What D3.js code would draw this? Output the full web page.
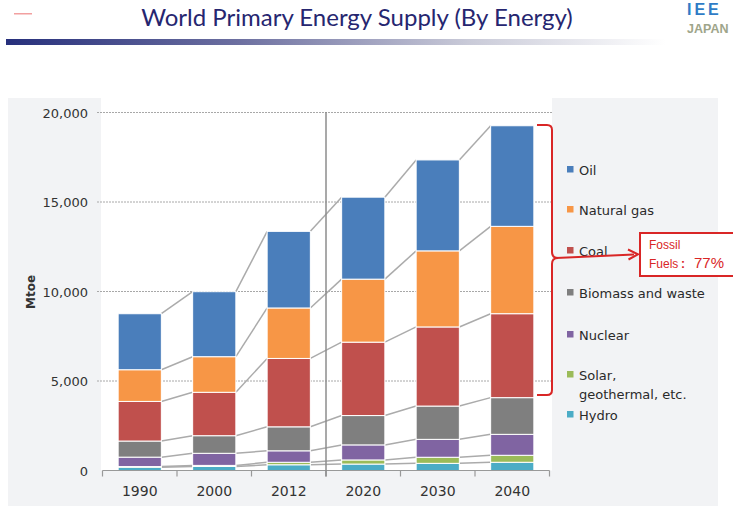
<!DOCTYPE html>
<html>
<head>
<meta charset="utf-8">
<script src="https://cdn.jsdelivr.net/npm/d3@7"></script>
<style>
html,body{margin:0;padding:0;background:#fff;}
svg{display:block;}
</style>
</head>
<body>
<svg id="chart" width="733" height="506"></svg>
<script>
// ---- data ----
const years = ["1990", "2000", "2012", "2020", "2030", "2040"];
const seriesNames = ["Hydro", "Solar, geothermal, etc.", "Nuclear", "Biomass and waste", "Coal", "Natural gas", "Oil"];
const hydro    = [184, 225, 320, 360, 400, 460];
const solar    = [36, 60, 140, 230, 340, 390];
const nuclear  = [526, 676, 640, 840, 1000, 1170];
const biomass  = [900, 983, 1340, 1640, 1860, 2050];
const coal     = [2213, 2425, 3820, 4100, 4420, 4690];
const gas      = [1771, 1989, 2820, 3520, 4250, 4880];
const oil      = [3128, 3631, 4280, 4580, 5080, 5620];
const yTicks   = [0, 5000, 10000, 15000, 20000];
const legendOrder = ["Oil", "Natural gas", "Coal", "Biomass and waste", "Nuclear", "Solar, geothermal, etc.", "Hydro"];
const colors = {
  "Oil": "#4a7ebb", "Natural gas": "#f79646", "Coal": "#c0504d",
  "Biomass and waste": "#7f7f7f", "Nuclear": "#8064a2",
  "Solar, geothermal, etc.": "#9bbb59", "Hydro": "#4bacc6"
};

const seriesValues = [hydro, solar, nuclear, biomass, coal, gas, oil];
const table = years.map((y, i) => {
  const row = {year: y};
  seriesNames.forEach((s, k) => row[s] = seriesValues[k][i]);
  return row;
});

const svg = d3.select("#chart");

// ---- header ----
const defs = svg.append("defs");
const grad = defs.append("linearGradient").attr("id", "hdr").attr("x1", "0").attr("x2", "1");
grad.append("stop").attr("offset", "0").attr("stop-color", "#27307c");
grad.append("stop").attr("offset", "0.35").attr("stop-color", "#6c6fa0");
grad.append("stop").attr("offset", "0.7").attr("stop-color", "#c9cad8");
grad.append("stop").attr("offset", "1").attr("stop-color", "#ffffff");
svg.append("rect").attr("x", 6).attr("y", 39).attr("width", 660).attr("height", 6).attr("fill", "url(#hdr)");
svg.append("rect").attr("x", 14).attr("y", 13).attr("width", 18).attr("height", 1.5).attr("fill", "#f2a0a0");
svg.append("text").attr("x", 357).attr("y", 26).attr("text-anchor", "middle")
  .attr("font-family", "Lato, 'Open Sans', sans-serif").attr("font-size", 24)
  .attr("fill", "#262670").text("World Primary Energy Supply (By Energy)");
svg.append("text").attr("x", 687).attr("y", 15).attr("font-family", "'Liberation Sans', Arial, sans-serif")
  .attr("font-weight", "bold").attr("font-size", 16).attr("letter-spacing", 3).attr("fill", "#2f7cc6").text("IEE");
svg.append("text").attr("x", 687).attr("y", 33).attr("font-family", "'Liberation Sans', Arial, sans-serif")
  .attr("font-weight", "bold").attr("font-size", 12.5).attr("fill", "#9ea58a").text("JAPAN");

// ---- panel ----
svg.append("rect").attr("x", 8).attr("y", 98).attr("width", 710).attr("height", 420).attr("fill", "#f2f3f5");
const plotL = 101, plotR = 552, plotT = 98, plotB = 470.5;
svg.append("rect").attr("x", plotL).attr("y", plotT).attr("width", plotR - plotL).attr("height", plotB - plotT).attr("fill", "#ffffff");

const x = d3.scaleBand().domain(years).range([102.5, 549.5]).paddingInner(0.42).paddingOuter(0.21);
const y = d3.scaleLinear().domain([0, 20000]).range([470.5, 112.5]);

// gridlines
svg.append("g").selectAll("line").data(yTicks.filter(d => d > 0)).join("line")
  .attr("x1", plotL - 4).attr("x2", plotR).attr("y1", d => y(d)).attr("y2", d => y(d))
  .attr("stroke", "#a8a8a8").attr("stroke-width", 1).attr("stroke-dasharray", "2,1");

// y axis labels
const yAxis = d3.axisLeft(y).tickValues(yTicks).tickSize(0).tickPadding(0).tickFormat(d3.format(","));
const yg = svg.append("g").attr("transform", "translate(88,0)").call(yAxis);
yg.select(".domain").remove();
yg.selectAll("text").attr("font-family", "'DejaVu Sans', Verdana, sans-serif").attr("font-size", 13).attr("fill", "#333").attr("dy", "0.35em");

svg.append("text").attr("transform", "translate(35,292) rotate(-90)").attr("text-anchor", "middle")
  .attr("font-family", "'DejaVu Sans', Verdana, sans-serif").attr("font-size", 12).attr("font-weight", "bold").attr("fill", "#333").text("Mtoe");

// stacked bars
const stack = d3.stack().keys(seriesNames)(table);

// connectors
const conn = svg.append("g");
stack.forEach(layer => {
  for (let i = 0; i < years.length - 1; i++) {
    const v0 = layer[i][1], v1 = layer[i + 1][1];
    conn.append("line")
      .attr("x1", x(years[i]) + x.bandwidth()).attr("y1", y(v0))
      .attr("x2", x(years[i + 1])).attr("y2", y(v1))
      .attr("stroke", "#ababab").attr("stroke-width", 1.5);
  }
});

svg.append("g").selectAll("g").data(stack).join("g")
  .attr("fill", d => colors[d.key])
  .selectAll("rect").data(d => d).join("rect")
  .attr("x", d => x(d.data.year)).attr("width", x.bandwidth())
  .attr("y", d => y(d[1])).attr("height", d => y(d[0]) - y(d[1]))
  .attr("stroke", "#ffffff").attr("stroke-width", 1);

// x axis
const xAxis = d3.axisBottom(x).tickSize(0).tickPadding(16);
const xg = svg.append("g").attr("transform", `translate(0,${plotB})`).call(xAxis);
xg.select(".domain").remove();
xg.selectAll("text").attr("font-family", "'DejaVu Sans', Verdana, sans-serif").attr("font-size", 14).attr("fill", "#333");
svg.append("line").attr("x1", 102.5).attr("x2", 549.5).attr("y1", plotB).attr("y2", plotB).attr("stroke", "#999").attr("stroke-width", 1.2);
const bounds = [0].concat(years.map(yy => x(yy) + x.bandwidth() + x.step() * 0.21)).map((v, i) => i === 0 ? 102.5 : v);
svg.append("g").selectAll("line").data(bounds).join("line")
  .attr("x1", d => d).attr("x2", d => d).attr("y1", plotB).attr("y2", plotB + 6)
  .attr("stroke", "#999").attr("stroke-width", 1.2);

// divider between history and projection
const divX = (x("2012") + x.bandwidth() + x("2020")) / 2;
svg.append("line").attr("x1", divX).attr("x2", divX).attr("y1", 112).attr("y2", plotB + 6)
  .attr("stroke", "#8c8c8c").attr("stroke-width", 1.5);

// legend
const legY = [170, 210, 251, 293, 335, 375, 415];
const lg = svg.append("g");
legendOrder.forEach((name, i) => {
  lg.append("rect").attr("x", 567).attr("y", legY[i] - 4).attr("width", 6.5).attr("height", 6.5).attr("fill", colors[name]);
  const t = lg.append("text").attr("x", 579).attr("y", legY[i] + 4.5)
    .attr("font-family", "'DejaVu Sans', Verdana, sans-serif").attr("font-size", 13).attr("fill", "#2a2a2a");
  if (name === "Solar, geothermal, etc.") {
    t.append("tspan").attr("x", 579).text("Solar,");
    t.append("tspan").attr("x", 579).attr("dy", 19).text("geothermal, etc.");
  } else {
    t.text(name);
  }
});

// callout
const red = "#d92626";
svg.append("path")
  .attr("d", "M537,125 H547 Q552,125 552,130 V252 Q552,258 558,258 M558,258 Q552,258 552,264 V390 Q552,395 547,395 H537")
  .attr("fill", "none").attr("stroke", red).attr("stroke-width", 2);
svg.append("line").attr("x1", 556).attr("y1", 258).attr("x2", 634).attr("y2", 254.5)
  .attr("stroke", red).attr("stroke-width", 2);
svg.append("path").attr("d", "M628,249.5 L638,254.3 L628.5,259.5").attr("fill", "none").attr("stroke", red).attr("stroke-width", 2);
svg.append("rect").attr("x", 640).attr("y", 233).attr("width", 110).attr("height", 43)
  .attr("fill", "#fff").attr("stroke", red).attr("stroke-width", 2);
svg.append("text").attr("x", 649).attr("y", 249).attr("font-family", "'Liberation Sans', Arial, sans-serif")
  .attr("font-size", 12).attr("fill", red).text("Fossil");
const ft = svg.append("text").attr("x", 649).attr("y", 268).attr("font-family", "'Liberation Sans', Arial, sans-serif")
  .attr("font-size", 12).attr("fill", red);
ft.append("tspan").text("Fuels");
ft.append("tspan").attr("x", 681).attr("font-weight", "bold").text(":");
ft.append("tspan").attr("x", 694).attr("font-size", 15).text("77%");
</script>
</body>
</html>
